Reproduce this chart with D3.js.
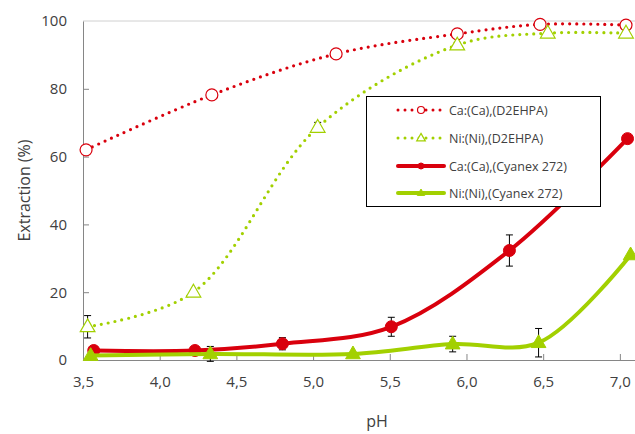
<!DOCTYPE html>
<html>
<head>
<meta charset="utf-8">
<script src="https://cdn.jsdelivr.net/npm/d3@7"></script>
<style>
  body { margin: 0; background: #fff; }
  text { font-family: "Open Sans", "Noto Sans", sans-serif; fill: #404040; }
</style>
</head>
<body>
<script>
// values
const xTicks = [3.5, 4.0, 4.5, 5.0, 5.5, 6.0, 6.5, 7.0];
const yTicks = [0, 20, 40, 60, 80, 100];

const pH_CaD = [3.52, 4.34, 5.15, 5.94, 6.48, 7.04];
const ext_CaD = [62.0, 78.2, 90.3, 96.2, 99.0, 98.8];
const err_CaD = [1.0, 0.8, 0.8, 0.8, 0.5, 0.6];

const pH_NiD = [3.53, 4.22, 5.03, 5.94, 6.53, 7.04];
const ext_NiD = [9.8, 20.0, 68.6, 92.9, 96.4, 96.4];
const err_NiD = [3.3, 0.5, 1.5, 0.8, 0.5, 0.5];

const pH_CaC = [3.57, 4.23, 4.80, 5.51, 6.28, 7.05];
const ext_CaC = [2.8, 2.8, 4.8, 9.8, 32.3, 65.3];
const err_CaC = [0.5, 0.5, 1.8, 2.8, 4.6, 0.5];

const pH_NiC = [3.55, 4.33, 5.26, 5.91, 6.47, 7.07];
const ext_NiC = [1.3, 1.8, 1.8, 4.7, 5.1, 31.0];
const err_NiC = [0.3, 2.2, 0.4, 2.3, 4.2, 0.5];

const seriesNames = ["Ca:(Ca),(D2EHPA)", "Ni:(Ni),(D2EHPA)", "Ca:(Ca),(Cyanex 272)", "Ni:(Ni),(Cyanex 272)"];

const red = "#d9000d", green = "#a2d000";

let series = [
  { name: seriesNames[0], x: pH_CaD, y: ext_CaD, e: err_CaD, color: red, dotted: true, marker: "circle", filled: false },
  { name: seriesNames[1], x: pH_NiD, y: ext_NiD, e: err_NiD, color: green, dotted: true, marker: "triangle", filled: false },
  { name: seriesNames[2], x: pH_CaC, y: ext_CaC, e: err_CaC, color: red, dotted: false, marker: "circle", filled: true },
  { name: seriesNames[3], x: pH_NiC, y: ext_NiC, e: err_NiC, color: green, dotted: false, marker: "triangle", filled: true }
];

let svgWidth = 635, svgHeight = 434;
let svg = d3.select("body").append("svg")
  .attr("width", svgWidth)
  .attr("height", svgHeight);

let xScale = d3.scaleLinear().domain([3.5, 7.1]).range([83, 635.2]);
let yScale = d3.scaleLinear().domain([0, 100]).range([360, 21]);

let commaFmt = d => d3.format(".1f")(d).replace(".", ",");

// plot area top border
svg.append("line")
  .attr("x1", xScale(3.5)).attr("x2", svgWidth)
  .attr("y1", yScale(100)).attr("y2", yScale(100))
  .attr("stroke", "#d0d0d0").attr("stroke-width", 1);

// axes
let xAxis = svg.append("g")
  .attr("transform", `translate(0, ${yScale(0)})`)
  .call(d3.axisBottom(xScale).tickValues(xTicks).tickFormat(commaFmt).tickSizeInner(-6).tickSizeOuter(0).tickPadding(16));
let yAxis = svg.append("g")
  .attr("transform", `translate(${xScale(3.5)}, 0)`)
  .call(d3.axisLeft(yScale).tickValues(yTicks).tickSizeInner(-6).tickSizeOuter(0).tickPadding(16));

[xAxis, yAxis].forEach(a => {
  a.select(".domain").attr("stroke", "#868686");
  a.selectAll(".tick line").attr("stroke", "#868686");
  a.selectAll(".tick text").style("font-size", "15px").attr("fill", "#404040");
});
yAxis.select(".tick:last-of-type line").remove();

// axis titles
svg.append("text")
  .attr("transform", `translate(30, ${(yScale(0) + yScale(100)) / 2}) rotate(-90)`)
  .attr("text-anchor", "middle")
  .style("font-size", "16px")
  .text("Extraction (%)");
svg.append("text")
  .attr("x", 377).attr("y", 427)
  .attr("text-anchor", "middle")
  .style("font-size", "16px")
  .text("pH");

let tri = d3.symbol().type(d3.symbolTriangle);

function drawMarker(g, s, cx, cy, size) {
  if (s.marker == "circle") {
    g.append("circle")
      .attr("cx", cx).attr("cy", cy).attr("r", size)
      .attr("fill", s.filled ? s.color : "#fff")
      .attr("stroke", s.color)
      .attr("stroke-width", s.filled ? 1 : 1.2);
  } else {
    g.append("path")
      .attr("d", tri.size(size * size * 2.6)())
      .attr("transform", `translate(${cx}, ${cy + size * 0.1})`)
      .attr("fill", s.filled ? s.color : "#fff")
      .attr("stroke", s.color)
      .attr("stroke-width", s.filled ? 1 : 1.2);
  }
}

let line = d3.line()
  .x(d => xScale(d[0]))
  .y(d => yScale(d[1]))
  .curve(d3.curveCatmullRom.alpha(0.5));

series.forEach(s => {
  let pts = s.x.map((v, i) => [v, s.y[i], s.e[i]]);
  let g = svg.append("g");

  // error bars
  pts.forEach(p => {
    let x = xScale(p[0]);
    let y1 = yScale(p[1] - p[2]), y2 = yScale(p[1] + p[2]);
    g.append("line").attr("x1", x).attr("x2", x).attr("y1", y1).attr("y2", y2)
      .attr("stroke", "#000").attr("stroke-width", 1);
    [y1, y2].forEach(y => g.append("line")
      .attr("x1", x - 3.5).attr("x2", x + 3.5).attr("y1", y).attr("y2", y)
      .attr("stroke", "#000").attr("stroke-width", 1));
  });

  g.append("path")
    .attr("d", line(pts))
    .attr("fill", "none")
    .attr("stroke", s.color)
    .attr("stroke-width", s.dotted ? 3.2 : 4)
    .attr("stroke-linecap", "round")
    .attr("stroke-dasharray", s.dotted ? "0 7" : null);

  pts.forEach(p => drawMarker(g, s, xScale(p[0]), yScale(p[1]), 6));
});

// legend
let legend = svg.append("g");
legend.append("rect")
  .attr("x", 366.5).attr("y", 96.5).attr("width", 234).attr("height", 110)
  .attr("fill", "#fff").attr("stroke", "#000").attr("stroke-width", 1);

let rowY = [110, 138, 166, 193];
series.forEach((s, i) => {
  let y = rowY[i];
  legend.append("line")
    .attr("x1", 398).attr("x2", 444).attr("y1", y).attr("y2", y)
    .attr("stroke", s.color)
    .attr("stroke-width", s.dotted ? 3 : 4)
    .attr("stroke-linecap", "round")
    .attr("stroke-dasharray", s.dotted ? "0 7" : null);
  drawMarker(legend, s, 421, y, s.filled ? 3 : 3.5);
  legend.append("text")
    .attr("x", 449).attr("y", y + 4.5)
    .style("font-size", "12.5px")
    .attr("fill", "#000")
    .text(s.name);
});
</script>
</body>
</html>
